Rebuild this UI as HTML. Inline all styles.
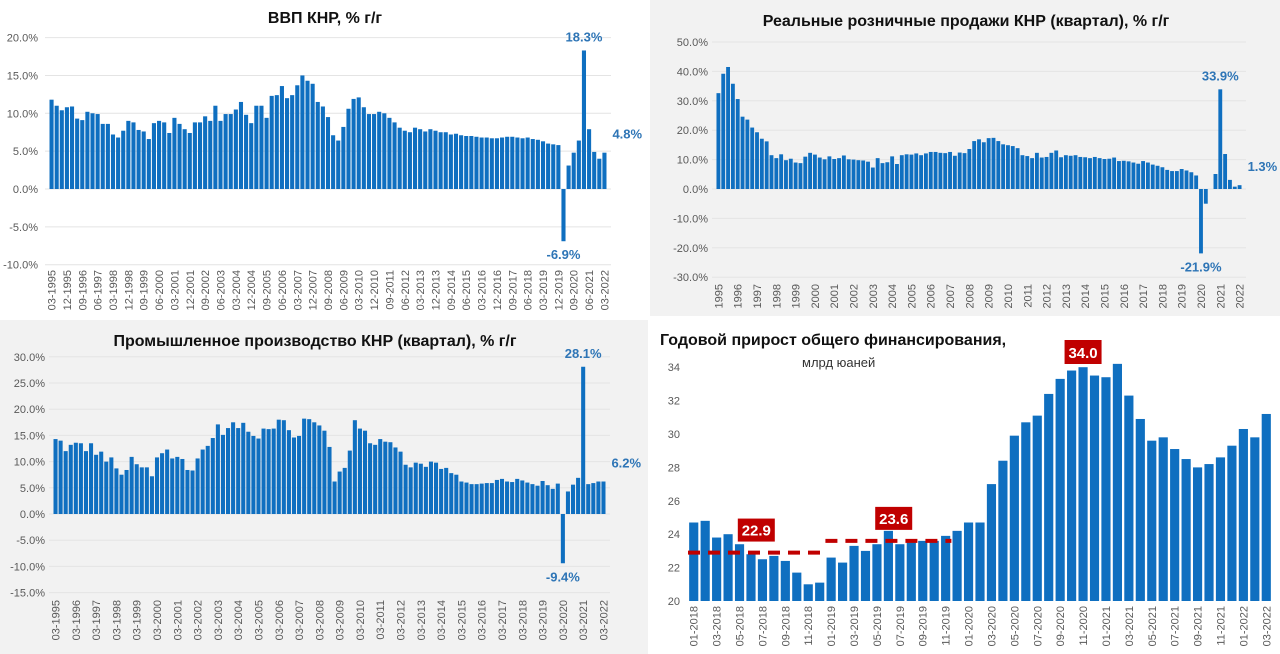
<!DOCTYPE html>
<html><head><meta charset="utf-8"><style>
body{margin:0;width:1280px;height:654px;overflow:hidden;background:#fff}
svg{display:block;font-family:"Liberation Sans",sans-serif}
</style></head><body>
<svg id="s" width="1280" height="654" viewBox="0 0 1280 654" xmlns="http://www.w3.org/2000/svg">
<rect x="0" y="0" width="645" height="318" fill="#ffffff"/>
<rect x="650" y="0" width="630" height="316" fill="#f2f2f2"/>
<rect x="0" y="320" width="648" height="334" fill="#f2f2f2"/>
<rect x="650" y="320" width="630" height="334" fill="#ffffff"/>
<text x="325" y="23" text-anchor="middle" font-size="16" font-weight="bold" fill="#111">ВВП КНР, % г/г</text>
<text x="966" y="26" text-anchor="middle" font-size="16" font-weight="bold" fill="#111">Реальные розничные продажи КНР (квартал), % г/г</text>
<text x="315" y="346" text-anchor="middle" font-size="16" font-weight="bold" fill="#111">Промышленное производство КНР (квартал), % г/г</text>
<text x="660" y="345" font-size="16" font-weight="bold" fill="#111">Годовой прирост общего финансирования,</text>
<text x="802" y="367" font-size="13" fill="#333">млрд юаней</text>
</svg>
<script>
const gdpValues=[11.8,11.0,10.4,10.8,10.9,9.3,9.1,10.2,10.0,9.9,8.6,8.6,7.2,6.8,7.7,9.0,8.8,7.8,7.6,6.6,8.7,9.0,8.8,7.4,9.4,8.6,7.9,7.4,8.8,8.8,9.6,9.0,11.0,9.0,9.9,9.9,10.5,11.5,9.8,8.7,11.0,11.0,9.4,12.3,12.4,13.6,12.0,12.4,13.7,15.0,14.3,13.9,11.5,10.9,9.5,7.1,6.4,8.2,10.6,11.9,12.1,10.8,9.9,9.9,10.2,10.0,9.4,8.8,8.1,7.7,7.5,8.1,7.9,7.6,7.9,7.7,7.5,7.5,7.2,7.3,7.1,7.0,7.0,6.9,6.8,6.8,6.7,6.7,6.8,6.9,6.9,6.8,6.7,6.8,6.6,6.5,6.3,6.0,5.9,5.8,-6.9,3.1,4.8,6.4,18.3,7.9,4.9,4.0,4.8];
const retailValues=[32.6,39.2,41.5,35.8,30.6,24.6,23.6,20.9,19.3,17.1,16.2,11.5,10.5,11.8,9.8,10.3,9.0,8.8,11.0,12.3,11.7,10.7,10.1,11.1,10.2,10.5,11.4,10.1,10.0,9.8,9.7,9.3,7.3,10.5,8.8,9.1,11.1,8.5,11.5,11.8,11.7,12.1,11.5,12.1,12.6,12.6,12.3,12.2,12.6,11.3,12.4,12.2,13.6,16.3,16.9,15.9,17.3,17.4,16.3,15.2,14.9,14.6,13.9,11.5,11.2,10.5,12.3,10.7,10.9,12.3,13.1,10.8,11.5,11.3,11.5,10.9,10.8,10.5,10.9,10.5,10.2,10.3,10.7,9.5,9.6,9.4,9.0,8.6,9.5,9.0,8.3,7.9,7.4,6.5,6.1,6.1,6.8,6.3,5.7,4.6,-21.9,-5.0,0,5.1,33.9,11.9,3.1,0.8,1.3];
const ipValues=[14.3,14.0,12.0,13.2,13.6,13.5,12.0,13.5,11.3,11.9,10.0,10.8,8.7,7.5,8.4,10.9,9.5,8.9,8.9,7.2,10.8,11.6,12.3,10.6,10.9,10.5,8.4,8.3,10.6,12.3,13.0,14.5,17.1,15.1,16.4,17.5,16.4,17.4,15.7,14.9,14.4,16.3,16.2,16.3,18.0,17.9,16.0,14.6,14.9,18.2,18.1,17.5,16.9,15.9,12.8,6.2,8.1,8.8,12.1,17.9,16.3,15.9,13.5,13.2,14.3,13.8,13.7,12.7,11.9,9.4,8.9,9.8,9.6,9.0,10.0,9.8,8.6,8.8,7.8,7.5,6.2,6.0,5.7,5.7,5.8,5.9,5.9,6.5,6.7,6.2,6.1,6.7,6.4,6.0,5.7,5.4,6.3,5.5,4.8,5.8,-9.4,4.3,5.6,6.9,28.1,5.7,5.9,6.2,6.2];
const finValues=[24.7,24.8,23.8,24.0,23.4,22.8,22.5,22.7,22.4,21.7,21.0,21.1,22.6,22.3,23.3,23.0,23.4,24.2,23.4,23.5,23.6,23.6,23.9,24.2,24.7,24.7,27.0,28.4,29.9,30.7,31.1,32.4,33.3,33.8,34.0,33.5,33.4,34.2,32.3,30.9,29.6,29.8,29.1,28.5,28.0,28.2,28.6,29.3,30.3,29.8,31.2];
const gdpTicks=[20,15,10,5,0,-5,-10];
const retailTicks=[50,40,30,20,10,0,-10,-20,-30];
const ipTicks=[30,25,20,15,10,5,0,-5,-10,-15];
const finTicks=[20,22,24,26,28,30,32,34];
const finAverages=[22.9,23.6];
const finAvgRanges=[[0,11],[12,22]];
const quarterLabels=[];
for(let y=1995;y<=2022;y++){for(const m of ['03','06','09','12']){if(quarterLabels.length<109)quarterLabels.push(m+'-'+y);}}
const monthLabels=[];
for(let y=2018;y<=2022;y++){for(let m=1;m<=12;m++){if(monthLabels.length<51)monthLabels.push(String(m).padStart(2,'0')+'-'+y);}}
const gdpCallouts=[[104,'18.3%','top'],[100,'-6.9%','bottom'],[108,'4.8%','right']];
const retailCallouts=[[104,'33.9%','top'],[100,'-21.9%','bottom'],[108,'1.3%','right']];
const ipCallouts=[[104,'28.1%','top'],[100,'-9.4%','bottom'],[108,'6.2%','right']];

const NS='http://www.w3.org/2000/svg';
const svg=document.getElementById('s');
function mk(tag,attrs,txt){const e=document.createElementNS(NS,tag);for(const k in attrs)e.setAttribute(k,attrs[k]);if(txt!==undefined)e.textContent=txt;svg.appendChild(e);return e;}

function chart(cfg){
  const n=cfg.values.length,band=(cfg.x1-cfg.x0)/n;
  const yS=v=>cfg.yZero-(v-cfg.base)*cfg.k;
  const xS=i=>cfg.x0+band*i;
  cfg.ticks.forEach(t=>{
    if(cfg.grid!==false){
      const g=mk('line',{x1:cfg.x0-4,x2:cfg.x1+4,y1:yS(t),y2:yS(t),stroke:'#e4e4e4','stroke-width':1});
      
      
    }
    const l=mk('text',{x:cfg.tickX,y:yS(t)+4,'text-anchor':'end','font-size':11,fill:'#595959'},cfg.fmt(t));
    
    
  });
  cfg.values.forEach((v,i)=>{
    const y0=yS(cfg.base),y1=yS(v);
    const r=mk('rect',{x:xS(i)+band*(1-cfg.bw)/2,width:band*cfg.bw,y:Math.min(y0,y1),height:Math.abs(y1-y0),fill:'#0f6fc0'});
    
    
  });
  for(let i=0;i<n;i+=cfg.labelStep){
    const cx=xS(i)+band/2+4, ty=cfg.labelY;
    const t=mk('text',{x:cx,y:ty,'text-anchor':'end','font-size':11,fill:'#595959',transform:`rotate(-90 ${cx} ${ty})`},cfg.labels[i]);
    
    
  }
  (cfg.callouts||[]).forEach(c=>{
    const i=c[0],v=cfg.values[i],cx=xS(i)+band/2;
    let x=cx,y,a='middle';
    if(c[2]==='top')y=yS(v)-9;else if(c[2]==='bottom')y=yS(v)+18;else{x=cx+8;y=yS(v)-14;a='start';}
    const t=mk('text',{x:x,y:y,'text-anchor':a,'font-size':13,'font-weight':'bold',fill:'#2e75b6'},c[1]);
    
    
  });
  return {xS,yS,band};
}
const pct=t=>t.toFixed(1)+'%';
chart({id:'gdp',values:gdpValues,ticks:gdpTicks,x0:49,x1:607,yZero:189,base:0,k:7.57,tickX:38,fmt:pct,labels:quarterLabels,labelStep:3,labelY:270,callouts:gdpCallouts,bw:0.8});
chart({id:'retail',values:retailValues,ticks:retailTicks,x0:716,x1:1242,yZero:189,base:0,k:2.94,tickX:708,fmt:pct,labels:quarterLabels.map(s=>s.slice(3)),labelStep:4,labelY:284,callouts:retailCallouts,bw:0.8});
chart({id:'industry',values:ipValues,ticks:ipTicks,x0:53,x1:606,yZero:514,base:0,k:5.24,tickX:45,fmt:pct,labels:quarterLabels,labelStep:4,labelY:600,callouts:ipCallouts,bw:0.8});
const f=chart({id:'financing',values:finValues,ticks:finTicks,x0:688,x1:1272,yZero:601,base:20,k:16.7,tickX:680,fmt:t=>String(t),labels:monthLabels,labelStep:2,labelY:606,grid:false,bw:0.8});
finAverages.forEach((a,j)=>{
  const r=finAvgRanges[j],y=f.yS(a);
  const l=mk('line',{x1:f.xS(r[0]),x2:f.xS(r[1]+1),y1:y,y2:y,stroke:'#c00000','stroke-width':4,'stroke-dasharray':'12 8'});
  
  
  const bx=f.xS(r[0]+4)+4,by=y-34;
  const b=mk('rect',{x:bx,y:by,width:37,height:23,fill:'#c00000'});
  
  
  const t=mk('text',{x:bx+18.5,y:by+17,'text-anchor':'middle','font-size':15,'font-weight':'bold',fill:'#fff'},a.toFixed(1));
  
  
});
const pk=34,px=f.xS(pk)+f.band/2;
const pb=mk('rect',{x:px-18.5,y:340,width:37,height:24,fill:'#c00000'});


const pt=mk('text',{x:px,y:358,'text-anchor':'middle','font-size':15,'font-weight':'bold',fill:'#fff'},finValues[pk].toFixed(1));


</script>
</body></html>
